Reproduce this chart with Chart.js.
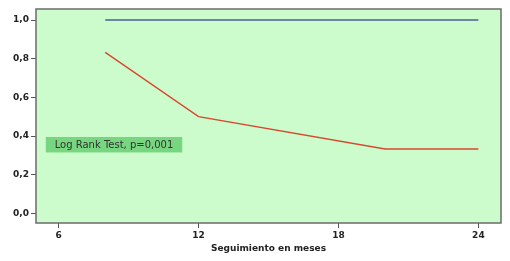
<!DOCTYPE html>
<html>
<head>
<meta charset="utf-8">
<script src="https://cdn.jsdelivr.net/npm/chart.js@4/dist/chart.umd.min.js"></script>
<style>
  html, body { margin: 0; padding: 0; background: #fff; }
  #wrap { width: 510px; height: 261px; }
</style>
</head>
<body>
<div id="wrap"><canvas id="km"></canvas></div>
<script>
// curvas de supervivencia
const mesesA = [8, 24];
const survA = [1.0, 1.0];
const mesesB = [8, 12, 20, 24];
const survB = [0.833, 0.5, 0.333, 0.333];
const xTicks = [6, 12, 18, 24];
const yTicks = [0, 0.2, 0.4, 0.6, 0.8, 1.0];
const nota = 'Log Rank Test, p=0,001';

const toPts = (xs, ys) => xs.map((x, i) => ({ x: x, y: ys[i] }));

const fondo = {
  id: 'fondo',
  beforeDatasetsDraw(chart) {
    const { ctx, chartArea: a } = chart;
    ctx.save();
    ctx.fillStyle = '#ccfccc';
    ctx.fillRect(a.left, a.top, a.right - a.left, a.bottom - a.top);
    // caja del texto
    const xs = chart.scales.x, ys = chart.scales.y;
    const x0 = xs.getPixelForValue(5.45), x1 = xs.getPixelForValue(11.3);
    const y0 = ys.getPixelForValue(0.395), y1 = ys.getPixelForValue(0.315);
    ctx.fillStyle = '#77d67f';
    ctx.fillRect(x0, y0, x1 - x0, y1 - y0);
    ctx.fillStyle = '#333';
    ctx.font = '10px "DejaVu Sans"';
    ctx.textAlign = 'center';
    ctx.textBaseline = 'middle';
    ctx.fillText(nota, (x0 + x1) / 2, (y0 + y1) / 2 + 1);
    ctx.restore();
  },
  afterDraw(chart) {
    const { ctx, chartArea: a } = chart;
    ctx.save();
    ctx.strokeStyle = '#6b6b6b';
    ctx.lineWidth = 1.5;
    ctx.strokeRect(a.left, a.top, a.right - a.left, a.bottom - a.top);
    ctx.restore();
  }
};

const tickFont = { family: 'DejaVu Sans', size: 9, weight: 'bold' };

new Chart(document.getElementById('km'), {
  type: 'line',
  data: {
    datasets: [
      { data: toPts(mesesA, survA), borderColor: '#4b5f96', borderWidth: 1.6, pointRadius: 0, tension: 0 },
      { data: toPts(mesesB, survB), borderColor: '#d8472f', borderWidth: 1.4, pointRadius: 0, tension: 0 }
    ]
  },
  options: {
    responsive: true,
    maintainAspectRatio: false,
    animation: false,
    layout: { padding: { top: 9, right: 9, left: 0, bottom: 0 } },
    plugins: { legend: { display: false }, tooltip: { enabled: false } },
    scales: {
      x: {
        type: 'linear',
        min: 5.03,
        max: 24.97,
        afterBuildTicks: s => { s.ticks = xTicks.map(v => ({ value: v })); },
        afterFit: s => { s.height = 38; },
        grid: { display: true, drawOnChartArea: false, drawTicks: true, tickLength: 5, color: '#555' },
        border: { display: false },
        ticks: { color: '#222', font: tickFont, padding: 2, maxRotation: 0 },
        title: { display: true, text: 'Seguimiento en meses', color: '#222', font: tickFont, padding: { top: 2, bottom: 7 } }
      },
      y: {
        min: -0.05,
        max: 1.057,
        afterBuildTicks: s => { s.ticks = yTicks.map(v => ({ value: v })); },
        afterFit: s => { s.width = 36; },
        grid: { display: true, drawOnChartArea: false, drawTicks: true, tickLength: 5, color: '#555' },
        border: { display: false },
        ticks: { color: '#222', font: tickFont, padding: 2, callback: v => v.toFixed(1).replace('.', ',') }
      }
    }
  },
  plugins: [fondo]
});
</script>
</body>
</html>
